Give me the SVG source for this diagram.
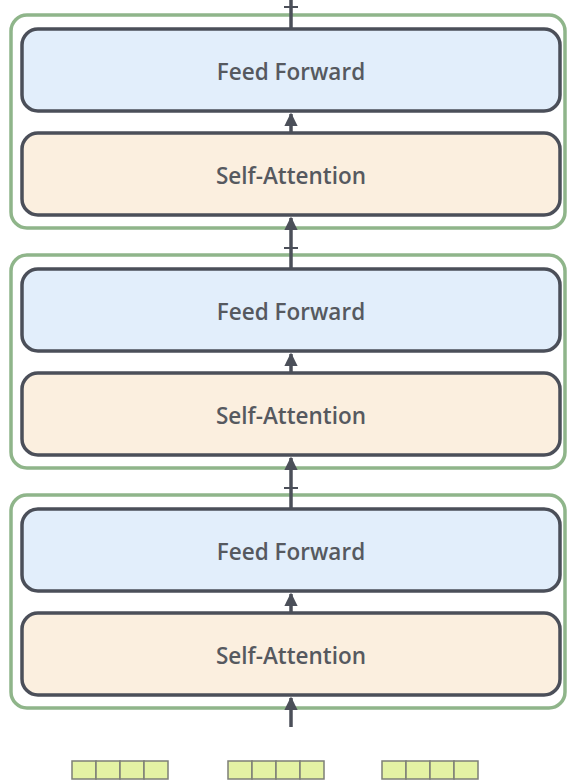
<svg xmlns="http://www.w3.org/2000/svg" width="567" height="782" viewBox="0 0 567 782">
  <defs>
    <style>
      .stack { fill: none; stroke: #8fb58a; stroke-width: 3.5; }
      .ffn { fill: #e2eefb; stroke: #4b4f59; stroke-width: 3.5; }
      .attn { fill: #fbefdf; stroke: #4b4f59; stroke-width: 3.5; }
      .label { font-family: "Open Sans", "Noto Sans", sans-serif; font-weight: 600; font-size: 22.5px; fill: #56595f; text-anchor: middle; dominant-baseline: central; }
      .edge { stroke: #4b4f59; stroke-width: 3.5; fill: none; }
      .tick { stroke: #4b4f59; stroke-width: 2; }
      .cell { fill: #e4f2a4; stroke: #7d7f77; stroke-width: 1.5; }
    </style>
    <marker id="head" viewBox="0 0 10 10" refX="9" refY="5" markerWidth="3.8" markerHeight="3.8" orient="auto" markerUnits="strokeWidth">
      <path d="M0,0 L10,5 L0,10 z" fill="#4b4f59"/>
    </marker>
  </defs>
  <rect width="567" height="782" fill="#ffffff"/>

  <!-- encoder 1 -->
  <g id="encoder1">
    <rect class="stack" x="11" y="15" width="554" height="213" rx="16"/>
    <g id="ffn1">
      <rect class="ffn" x="22" y="29" width="538" height="82" rx="16"/>
      <text class="label" x="291" y="71">Feed Forward</text>
    </g>
    <g id="attn1">
      <rect class="attn" x="22" y="133" width="538" height="82" rx="16"/>
      <text class="label" x="291" y="175">Self-Attention</text>
    </g>
  </g>

  <!-- encoder 2 -->
  <g id="encoder2">
    <rect class="stack" x="11" y="255" width="554" height="213" rx="16"/>
    <g id="ffn2">
      <rect class="ffn" x="22" y="269" width="538" height="82" rx="16"/>
      <text class="label" x="291" y="311">Feed Forward</text>
    </g>
    <g id="attn2">
      <rect class="attn" x="22" y="373" width="538" height="82" rx="16"/>
      <text class="label" x="291" y="415">Self-Attention</text>
    </g>
  </g>

  <!-- encoder 3 -->
  <g id="encoder3">
    <rect class="stack" x="11" y="495" width="554" height="213" rx="16"/>
    <g id="ffn3">
      <rect class="ffn" x="22" y="509" width="538" height="82" rx="16"/>
      <text class="label" x="291" y="551">Feed Forward</text>
    </g>
    <g id="attn3">
      <rect class="attn" x="22" y="613" width="538" height="82" rx="16"/>
      <text class="label" x="291" y="655">Self-Attention</text>
    </g>
  </g>

  <!-- input vectors -->
  <g id="vec1">
    <rect class="cell" x="72" y="761" width="24" height="18"/>
    <rect class="cell" x="96" y="761" width="24" height="18"/>
    <rect class="cell" x="120" y="761" width="24" height="18"/>
    <rect class="cell" x="144" y="761" width="24" height="18"/>
  </g>
  <g id="vec2">
    <rect class="cell" x="228" y="761" width="24" height="18"/>
    <rect class="cell" x="252" y="761" width="24" height="18"/>
    <rect class="cell" x="276" y="761" width="24" height="18"/>
    <rect class="cell" x="300" y="761" width="24" height="18"/>
  </g>
  <g id="vec3">
    <rect class="cell" x="382" y="761" width="24" height="18"/>
    <rect class="cell" x="406" y="761" width="24" height="18"/>
    <rect class="cell" x="430" y="761" width="24" height="18"/>
    <rect class="cell" x="454" y="761" width="24" height="18"/>
  </g>

  <!-- connectors -->
  <g id="connectors">
    <line class="edge" x1="291" y1="727" x2="291" y2="698" marker-end="url(#head)"/>
    <line class="edge" x1="291" y1="613" x2="291" y2="594" marker-end="url(#head)"/>
    <line class="edge" x1="291" y1="509" x2="291" y2="458" marker-end="url(#head)"/>
    <line class="tick" x1="284" y1="488" x2="298" y2="488"/>
    <line class="edge" x1="291" y1="373" x2="291" y2="354" marker-end="url(#head)"/>
    <line class="edge" x1="291" y1="269" x2="291" y2="218" marker-end="url(#head)"/>
    <line class="tick" x1="284" y1="248" x2="298" y2="248"/>
    <line class="edge" x1="291" y1="133" x2="291" y2="114" marker-end="url(#head)"/>
    <line class="edge" x1="291" y1="29" x2="291" y2="0"/>
    <line class="tick" x1="284" y1="7" x2="298" y2="7"/>
  </g>
</svg>
